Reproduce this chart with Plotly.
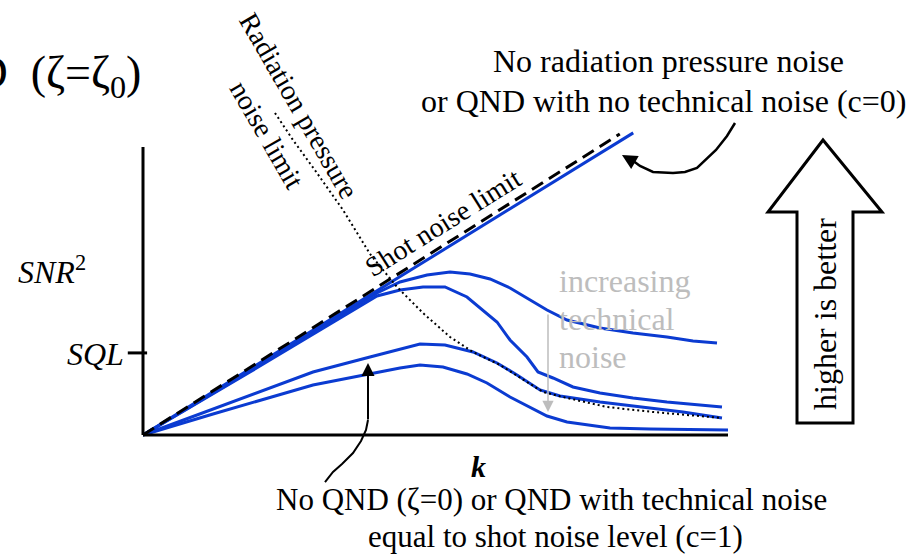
import plotly.graph_objects as go

# ---------------- data (k, SNR^2 in arbitrary units) ----------------
k_qnd_c0 = [0.0, 8.38]
snr_qnd_c0 = [0.0, 10.49]

k_shot = [0.0, 8.15]
snr_shot = [0.0, 10.45]

k_curve_a = [0.0, 1.829, 4.000, 4.393, 4.855, 5.248, 5.590, 5.932, 6.274, 6.667, 6.906, 7.248, 7.812, 8.376, 8.957, 9.402, 9.812]
snr_curve_a = [0.0, 2.222, 4.931, 5.313, 5.556, 5.660, 5.590, 5.417, 5.104, 4.618, 4.340, 3.993, 3.715, 3.542, 3.403, 3.264, 3.194]

k_curve_b = [0.0, 1.829, 4.000, 4.393, 4.786, 5.162, 5.538, 5.761, 6.051, 6.274, 6.564, 6.752, 7.009, 7.350, 7.812, 8.376, 8.957, 9.897]
snr_curve_b = [0.0, 2.188, 4.826, 5.035, 5.139, 5.139, 4.792, 4.410, 3.924, 3.299, 2.708, 2.188, 1.979, 1.667, 1.458, 1.285, 1.146, 0.972]

k_curve_c = [0.0, 1.197, 2.906, 3.880, 4.735, 5.162, 5.641, 6.051, 6.393, 6.786, 7.128, 7.812, 8.496, 9.231, 9.897]
snr_curve_c = [0.0, 0.903, 2.188, 2.708, 3.160, 3.125, 2.882, 2.500, 2.083, 1.563, 1.354, 1.146, 0.972, 0.799, 0.590]

k_curve_d = [0.0, 1.197, 2.906, 3.761, 4.393, 4.735, 5.128, 5.538, 5.880, 6.274, 6.906, 7.248, 7.983, 8.667, 10.0]
snr_curve_d = [0.0, 0.729, 1.736, 2.083, 2.326, 2.431, 2.361, 2.118, 1.806, 1.319, 0.660, 0.451, 0.243, 0.208, 0.174]

k_rp = [2.256, 2.564, 2.974, 3.419, 3.880, 4.342, 4.786, 5.248, 5.641, 6.103, 6.564, 6.838, 7.248, 7.932, 8.718, 9.897]
snr_rp = [11.181, 10.243, 9.097, 7.813, 6.285, 5.139, 4.236, 3.403, 2.882, 2.431, 1.840, 1.493, 1.285, 0.972, 0.799, 0.590]

k_max = 10.0
snr_max = 10.0
sql_level = 2.85

# ---------------- figure geometry ----------------
W, H = 915, 555
X0, Y0 = 143, 435          # pixel of origin
SX, SY = 58.5, 28.8        # pixels per data unit

BLUE = "#0b3bd1"
GRAY = "#bdbdbd"
FONT = "Liberation Serif, Times New Roman, serif"

fig = go.Figure()

def line(xs, ys, color=BLUE, width=3, dash=None):
    fig.add_trace(go.Scatter(x=xs, y=ys, mode="lines",
                             line=dict(color=color, width=width, dash=dash),
                             hoverinfo="skip", showlegend=False))

line(k_curve_d, snr_curve_d)
line(k_curve_c, snr_curve_c)
line(k_curve_b, snr_curve_b)
line(k_curve_a, snr_curve_a)
line(k_qnd_c0, snr_qnd_c0)
line(k_shot, snr_shot, color="black", width=3, dash="13px,7px")
line(k_rp, snr_rp, color="black", width=2, dash="2px,3px")

def P(px, py):
    return px / W, 1 - py / H

def path(pts, close=False):
    s = ""
    for i, (px, py) in enumerate(pts):
        x, y = P(px, py)
        s += ("M" if i == 0 else "L") + f"{x:.5f},{y:.5f} "
    if close:
        s += "Z"
    return s

shapes = []
# axes
shapes.append(dict(type="line", xref="x", yref="y", x0=0, y0=0, x1=k_max, y1=0,
                   line=dict(color="black", width=3)))
shapes.append(dict(type="line", xref="x", yref="y", x0=0, y0=0, x1=0, y1=snr_max,
                   line=dict(color="black", width=3)))
# SQL tick
shapes.append(dict(type="line", xref="x", yref="y", x0=-0.26, y0=sql_level, x1=0.07, y1=sql_level,
                   line=dict(color="black", width=3)))
# big hollow arrow
shapes.append(dict(type="path", xref="paper", yref="paper",
                   path=path([(823, 140), (768, 212), (797, 212), (797, 423), (853, 423), (853, 212), (882, 212)], close=True),
                   line=dict(color="black", width=3), fillcolor="white"))
# curved arrow top right
shapes.append(dict(type="path", xref="paper", yref="paper",
                   path=path([(735, 123), (727, 136), (716, 150), (697, 168), (685, 172), (673, 173), (653, 172), (640, 166), (632, 160)]),
                   line=dict(color="black", width=2.5)))
# curved arrow bottom
shapes.append(dict(type="path", xref="paper", yref="paper",
                   path=path([(325, 482), (333, 472), (342, 464), (353, 453), (361, 441), (366, 430), (368, 420)]),
                   line=dict(color="black", width=2)))

fig.update_layout(shapes=shapes)

anns = []
def A(text, px, py, size=28, color="black", angle=0, xanchor="center", yanchor="middle"):
    x, y = P(px, py)
    anns.append(dict(text=text, x=x, y=y, xref="paper", yref="paper", showarrow=False,
                     font=dict(family=FONT, size=size, color=color), textangle=angle,
                     xanchor=xanchor, yanchor=yanchor))

def ARROW(px, py, ax, ay, color="black", width=2, head=2, size=1.2):
    x, y = P(px, py)
    anns.append(dict(text="", x=x, y=y, xref="paper", yref="paper", showarrow=True,
                     ax=ax, ay=ay, arrowcolor=color, arrowwidth=width, arrowhead=head,
                     arrowsize=size, standoff=0))

A("QND\u2002(ζ=ζ<sub>0</sub>)", 143, 76, size=46, xanchor="right")
A("Radiation pressure", 299, 105, angle=60)
A("noise limit", 267, 134, angle=60)
A("Shot noise limit", 443, 222, angle=-32)
A("No radiation pressure noise", 668, 61, size=32)
A("or QND with no technical noise (c=0)", 663, 101, size=32)
A("higher is better", 825, 314, size=32, angle=-90)
A("increasing", 557, 281, size=32, color=GRAY, xanchor="left")
A("technical", 557, 319, size=32, color=GRAY, xanchor="left")
A("noise", 557, 357, size=32, color=GRAY, xanchor="left")
A("<i>SNR</i><sup>2</sup>", 52, 270, size=32)
A("<i>SQL</i>", 126, 354, size=32, xanchor="right")
A("<b><i>k</i></b>", 478, 466, size=30)
A("No QND (ζ=0) or QND with technical noise", 551, 499, size=31)
A("equal to shot noise level (c=1)", 555, 536, size=31)

ARROW(548, 412, 0, -99, color=GRAY, width=1.5, head=2, size=1.5)
ARROW(368, 363, 0, 58, color="black", width=2, head=2, size=1.3)
ARROW(622, 155, 12, 7, color="black", width=2.5, head=2, size=1.2)

fig.update_layout(
    annotations=anns,
    width=W, height=H,
    margin=dict(l=0, r=0, t=0, b=0),
    paper_bgcolor="white", plot_bgcolor="white",
    showlegend=False,
    xaxis=dict(range=[-X0 / SX, (W - X0) / SX], visible=False, fixedrange=True),
    yaxis=dict(range=[-(H - Y0) / SY, Y0 / SY], visible=False, fixedrange=True),
)

fig.write_html("out.html")
